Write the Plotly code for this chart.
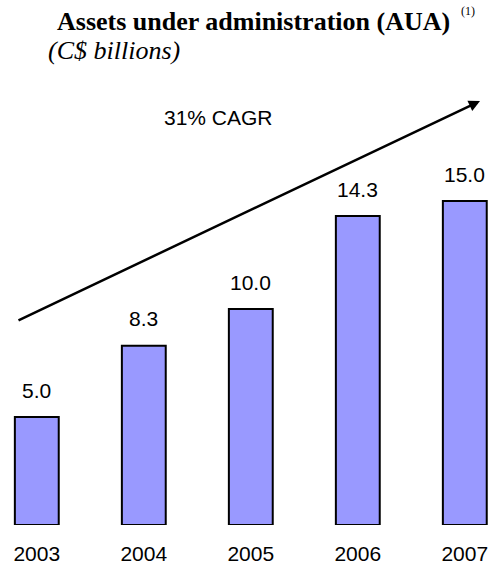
import plotly.graph_objects as go

years = ["2003", "2004", "2005", "2006", "2007"]
aua = [5.0, 8.3, 10.0, 14.3, 15.0]
labels = ["5.0", "8.3", "10.0", "14.3", "15.0"]

W, H = 489, 568
ML, MR, MT, MB = 0, 0, 0, 43
PW, PH = W - ML - MR, H - MT - MB

def px(x):
    return x / PW

def py(y):
    return 1 - y / PH

xpos = list(range(len(years)))
spacing = 107.0
off = 36.8

fig = go.Figure()
fig.add_trace(go.Bar(
    x=xpos, y=aua, width=0.41,
    marker=dict(color="#9999FF", line=dict(color="black", width=2)),
    hoverinfo="skip",
))

ann = []
for xi, v, t in zip(xpos, aua, labels):
    ann.append(dict(x=xi, y=v, xref="x", yref="y", text=t, showarrow=False,
                    yanchor="middle", yshift=27,
                    font=dict(family="Liberation Sans, Arial", size=21, color="black")))

# title
ann.append(dict(x=px(55), y=py(21), xref="paper", yref="paper", xanchor="left", yanchor="middle",
                text="<b>Assets under administration (AUA)</b>", showarrow=False,
                font=dict(family="Liberation Serif, Times New Roman", size=26, color="black")))
ann.append(dict(x=px(459), y=py(11), xref="paper", yref="paper", xanchor="left", yanchor="middle",
                text="(1)", showarrow=False,
                font=dict(family="Liberation Serif, Times New Roman", size=12, color="black")))
ann.append(dict(x=px(46), y=py(50), xref="paper", yref="paper", xanchor="left", yanchor="middle",
                text="<i>(C$ billions)</i>", showarrow=False,
                font=dict(family="Liberation Serif, Times New Roman", size=26, color="black")))
# CAGR
ann.append(dict(x=px(218), y=py(118), xref="paper", yref="paper", xanchor="center", yanchor="middle",
                text="31% CAGR", showarrow=False,
                font=dict(family="Liberation Sans, Arial", size=21, color="black")))
# arrow
ann.append(dict(x=px(480), y=py(101), ax=px(17), ay=py(321), xref="x domain", yref="y domain",
                axref="x domain", ayref="y domain", text="", showarrow=True,
                arrowhead=2, arrowsize=0.9, arrowwidth=2.5, arrowcolor="black", standoff=0))

fig.update_layout(
    width=W, height=H,
    margin=dict(l=ML, r=MR, t=MT, b=MB),
    paper_bgcolor="white", plot_bgcolor="white",
    showlegend=False,
    annotations=ann,
    xaxis=dict(range=[-off / spacing, (PW - off) / spacing], tickvals=xpos, ticktext=years,
               showgrid=False, zeroline=False, showline=False, ticks="",
               ticklabelstandoff=14,
               tickfont=dict(family="Liberation Sans, Arial", size=21, color="black")),
    yaxis=dict(range=[0, PH / 21.6], visible=False, showgrid=False, zeroline=False),
)

fig.write_html("out.html")
